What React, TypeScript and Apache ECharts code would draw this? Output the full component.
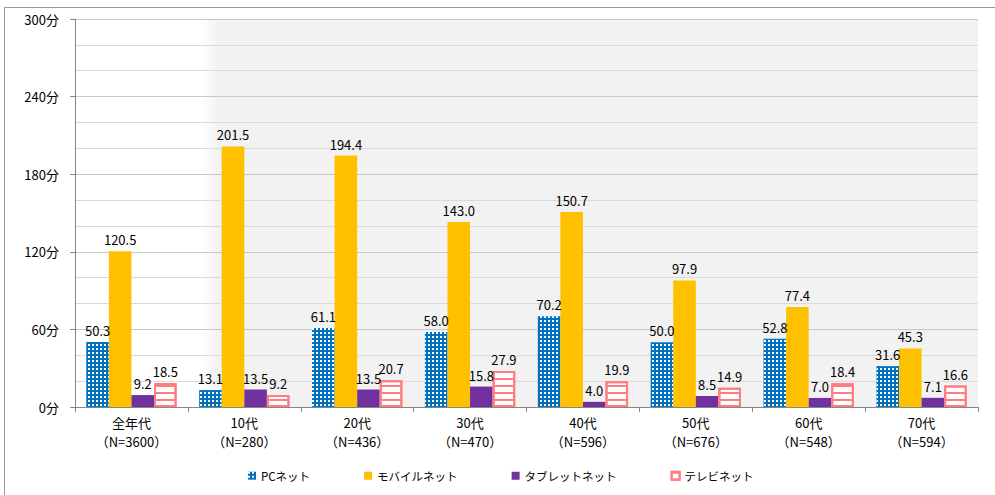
import React, { useEffect, useRef } from "react";
import * as echarts from "echarts";

const ageGroups = ["全年代", "10代", "20代", "30代", "40代", "50代", "60代", "70代"];
const sampleSizes = ["N=3600", "N=280", "N=436", "N=470", "N=596", "N=676", "N=548", "N=594"];
const seriesNames = ["PCネット", "モバイルネット", "タブレットネット", "テレビネット"];
const pcNet = [50.3, 13.1, 61.1, 58.0, 70.2, 50.0, 52.8, 31.6];
const mobileNet = [120.5, 201.5, 194.4, 143.0, 150.7, 97.9, 77.4, 45.3];
const tabletNet = [9.2, 13.5, 13.5, 15.8, 4.0, 8.5, 7.0, 7.1];
const tvNet = [18.5, 9.2, 20.7, 27.9, 19.9, 14.9, 18.4, 16.6];

const FONT = '"Noto Sans CJK JP", "Noto Sans", sans-serif';

export default function App() {
  const ref = useRef<HTMLDivElement>(null);
  useEffect(() => {
    if (!ref.current) return;
    const chart = echarts.init(ref.current, undefined, { renderer: "svg" });
    const categories = ageGroups.map((g, i) => `${g}\n（${sampleSizes[i]}）`);
    const label = {
      show: true,
      position: "top" as const,
      distance: 5,
      color: "#000",
      fontSize: 13,
      fontFamily: FONT,
      formatter: (p: any) => Number(p.value).toFixed(1),
    };
    const mk = (name: string, data: number[], itemStyle: any) => ({
      name,
      type: "bar",
      data,
      barGap: "0%",
      barCategoryGap: "20%",
      itemStyle,
      label,
      emphasis: { disabled: true },
    });
    chart.setOption({
      animation: false,
      backgroundColor: "#fff",
      textStyle: { fontFamily: FONT },
      grid: {
        left: 75,
        right: 17,
        top: 19,
        bottom: 88,
        show: true,
        borderWidth: 0,
        backgroundColor: new echarts.graphic.LinearGradient(0, 0, 1, 0, [
          { offset: 0, color: "#ffffff" },
          { offset: 0.14, color: "#ffffff" },
          { offset: 0.16, color: "#f2f2f2" },
          { offset: 1, color: "#f2f2f2" },
        ]),
      },
      graphic: [
        {
          type: "rect",
          shape: { x: 4.5, y: 7.5, width: 1000, height: 500 },
          style: { fill: "none", stroke: "#999", lineWidth: 1 },
          silent: true,
        },
      ],
      legend: {
        left: 248,
        top: 470,
        padding: 0,
        itemWidth: 8,
        itemHeight: 8,
        itemGap: 54,
        icon: "rect",
        textStyle: { fontSize: 11.5, color: "#000", fontFamily: FONT },
        data: seriesNames,
      },
      xAxis: {
        type: "category",
        data: categories,
        axisLine: { lineStyle: { color: "#868686", width: 1 } },
        axisTick: { show: true, alignWithLabel: false, length: 5, lineStyle: { color: "#868686" } },
        axisLabel: { color: "#000", fontSize: 13, lineHeight: 19, margin: 6, fontFamily: FONT },
      },
      yAxis: {
        type: "value",
        min: 0,
        max: 300,
        interval: 60,
        axisLine: { show: true, lineStyle: { color: "#868686" } },
        axisTick: { show: true, length: 5, lineStyle: { color: "#868686" } },
        axisLabel: { color: "#000", fontSize: 13, margin: 16, formatter: "{value}分", fontFamily: FONT },
        splitLine: { show: true, lineStyle: { color: "#c8c8c8", width: 1 } },
        minorTick: { show: false, splitNumber: 3 },
        minorSplitLine: { show: true, lineStyle: { color: "#dadada", width: 1 } },
      },
      series: [
        mk(seriesNames[0], pcNet, {
          color: "#0070c0",
          decal: {
            symbol: "rect",
            symbolSize: 1,
            color: "#ffffff",
            dashArrayX: [1.5, 1.5],
            dashArrayY: [1.5, 1.5],
            rotation: 0,
          },
        }),
        mk(seriesNames[1], mobileNet, { color: "#ffc000" }),
        mk(seriesNames[2], tabletNet, { color: "#7030a0" }),
        mk(seriesNames[3], tvNet, {
          color: "#ffffff",
          borderColor: "#ff7c80",
          borderWidth: 2,
          decal: {
            symbol: "rect",
            symbolSize: 1,
            color: "#ff7c80",
            dashArrayX: [1, 0],
            dashArrayY: [1.5, 5],
            rotation: 0,
          },
        }),
      ],
    });
    return () => chart.dispose();
  }, []);
  return (
    <div
      ref={ref}
      style={{ position: "fixed", left: 0, top: 0, width: 995, height: 495, background: "#fff" }}
    />
  );
}
